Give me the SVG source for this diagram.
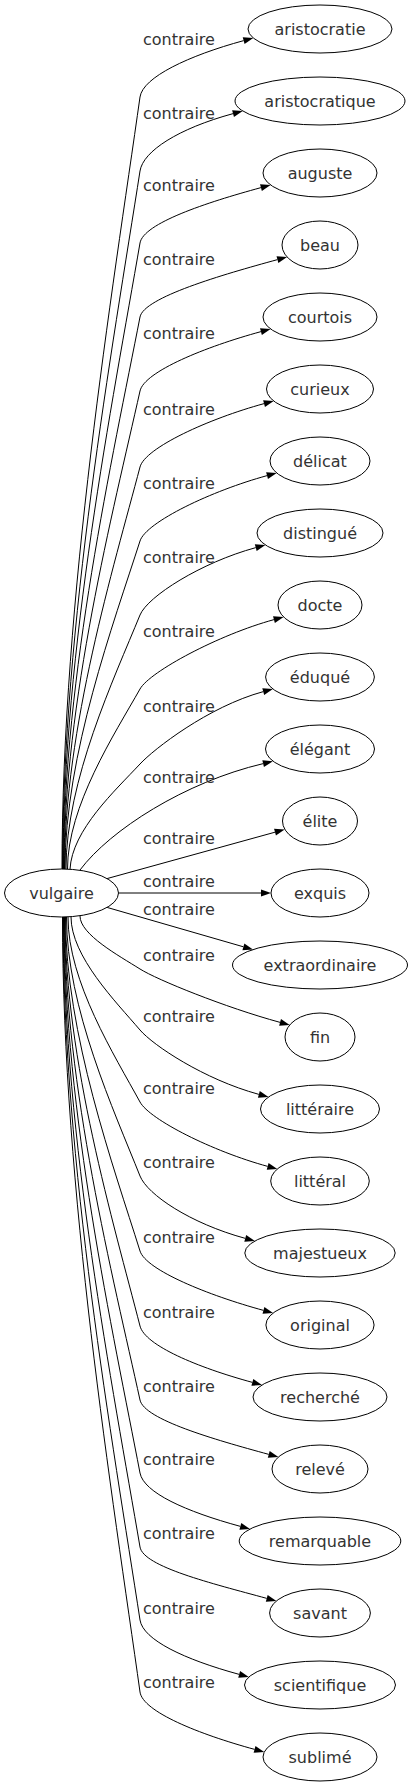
<svg xmlns="http://www.w3.org/2000/svg" width="413" height="1787" viewBox="0 0 413 1787">
<style>
.n ellipse{fill:#fff;stroke:#000;stroke-width:1}
.n text{font-family:"DejaVu Sans",sans-serif;font-size:16px;fill:#333;text-anchor:middle}
.e path{fill:none;stroke:#000;stroke-width:1;marker-end:url(#arr)}
.e text{font-family:"DejaVu Sans",sans-serif;font-size:16px;fill:#333;text-anchor:start}
</style>
<defs>
<marker id="arr" markerUnits="userSpaceOnUse" markerWidth="10" markerHeight="7" refX="0" refY="3.5" orient="auto" viewBox="0 0 10 7" overflow="visible"><path d="M0,0 L10,3.5 L0,7 z" fill="#000"/></marker>
</defs>
<rect width="413" height="1787" fill="#fff"/>
<g id="connectors" class="e">
<path d="M62,869 C62,598.8 112.7,290 140,97 C142.8,77.2 188.65,55.63 243.65,40.63"/><text x="143" y="45">contraire</text>
<path d="M62.5,869 C62.5,624.7 112.9,345.5 140,171 C143.1,151.2 178.05,128.63 233.05,113.63"/><text x="143" y="119">contraire</text>
<path d="M63,869 C63,649.9 113.05,399.5 140,243 C143.4,223.3 205.95,202.63 260.95,187.63"/><text x="143" y="191">contraire</text>
<path d="M63.5,869 C63.5,675.8 113.2,455 140,317 C143.8,297.4 222.45,274.63 277.45,259.63"/><text x="143" y="265">contraire</text>
<path d="M64,869 C64,701.7 113.4,510.5 140,391 C144.3,371.5 205.95,346.63 260.95,331.63"/><text x="143" y="339">contraire</text>
<path d="M64.5,869 C64.5,728.3 113.6,567.5 140,467 C145.1,447.7 209.05,418.63 264.05,403.63"/><text x="143" y="415">contraire</text>
<path d="M65,869 C65,754.2 113.75,623 140,541 C146.1,522 212.05,490.63 267.05,475.63"/><text x="143" y="489">contraire</text>
<path d="M66,869 C66,780.1 114.1,678.5 140,615 C147.6,596.5 200.75,562.63 255.75,547.63"/><text x="143" y="563">contraire</text>
<path d="M67.5,869 C67.5,806 114.6,734 140,689 C149.8,671.6 218.95,634.63 273.95,619.63"/><text x="143" y="637">contraire</text>
<path d="M70,869.3 C72,830 115.5,790.3 140,764 C153.6,749.3 208.25,706.63 263.25,691.63"/><text x="143" y="712">contraire</text>
<path d="M80,870 C110,830 185,782 263.15,763.63"/><text x="143" y="783">contraire</text>
<path d="M107,878.6 L275,832.2"/><text x="143" y="844">contraire</text>
<path d="M118.5,893 L261,893"/><text x="143" y="887">contraire</text>
<path d="M107,907.4 L243.4,946.8"/><text x="143" y="915">contraire</text>
<path d="M80,916 C80,934.55 119,955.75 140,969 C156.9,979.7 225.05,1007.37 280.05,1022.37"/><text x="143" y="961">contraire</text>
<path d="M71,916.7 C71,956.4 115.85,1001.7 140,1030 C153,1045.2 203.85,1079.37 258.85,1094.37"/><text x="143" y="1022">contraire</text>
<path d="M68,917 C68,981.75 114.8,1055.75 140,1102 C149.6,1119.6 212.65,1151.37 267.65,1166.37"/><text x="143" y="1094">contraire</text>
<path d="M66.5,917 C66.5,1007.65 114.3,1111.25 140,1176 C147.4,1194.6 190.25,1223.37 245.25,1238.37"/><text x="143" y="1168">contraire</text>
<path d="M65.5,917 C65.5,1033.9 113.9,1167.5 140,1251 C146,1270.1 208.45,1295.37 263.45,1310.37"/><text x="143" y="1243">contraire</text>
<path d="M65,917 C65,1060.15 113.75,1223.75 140,1326 C145,1345.4 197.35,1367.37 252.35,1382.37"/><text x="143" y="1318">contraire</text>
<path d="M64.5,917 C64.5,1086.05 113.6,1279.25 140,1400 C144.3,1419.5 213.75,1439.37 268.75,1454.37"/><text x="143" y="1392">contraire</text>
<path d="M64,917 C64,1111.6 113.4,1334 140,1473 C143.8,1492.6 185.35,1511.37 240.35,1526.37"/><text x="143" y="1465">contraire</text>
<path d="M63.5,917 C63.5,1137.5 113.2,1389.5 140,1547 C143.4,1566.7 211.75,1583.37 266.75,1598.37"/><text x="143" y="1539">contraire</text>
<path d="M63,917 C63,1163.05 113.05,1444.25 140,1620 C143,1639.8 184.15,1659.37 239.15,1674.37"/><text x="143" y="1614">contraire</text>
<path d="M62.5,917 C62.5,1188.25 112.9,1498.25 140,1692 C142.8,1711.8 199.55,1734.37 254.55,1749.37"/><text x="143" y="1688">contraire</text>
</g>
<g id="vulgaire" class="n"><ellipse cx="61.5" cy="893" rx="57" ry="24"/><text x="61.5" y="899">vulgaire</text></g>
<g id="aristocratie" class="n"><ellipse cx="320" cy="29" rx="72" ry="24"/><text x="320" y="35">aristocratie</text></g>
<g id="aristocratique" class="n"><ellipse cx="320" cy="101" rx="85" ry="24"/><text x="320" y="107">aristocratique</text></g>
<g id="auguste" class="n"><ellipse cx="320" cy="173" rx="57" ry="24"/><text x="320" y="179">auguste</text></g>
<g id="beau" class="n"><ellipse cx="320" cy="245" rx="38" ry="24"/><text x="320" y="251">beau</text></g>
<g id="courtois" class="n"><ellipse cx="320" cy="317" rx="57" ry="24"/><text x="320" y="323">courtois</text></g>
<g id="curieux" class="n"><ellipse cx="320" cy="389" rx="53.5" ry="24"/><text x="320" y="395">curieux</text></g>
<g id="delicat" class="n"><ellipse cx="320" cy="461" rx="50" ry="24"/><text x="320" y="467">délicat</text></g>
<g id="distingue" class="n"><ellipse cx="320" cy="533" rx="63" ry="24"/><text x="320" y="539">distingué</text></g>
<g id="docte" class="n"><ellipse cx="320" cy="605" rx="42" ry="24"/><text x="320" y="611">docte</text></g>
<g id="eduque" class="n"><ellipse cx="320" cy="677" rx="54.4" ry="24"/><text x="320" y="683">éduqué</text></g>
<g id="elegant" class="n"><ellipse cx="320" cy="749" rx="54.5" ry="24"/><text x="320" y="755">élégant</text></g>
<g id="elite" class="n"><ellipse cx="320" cy="821" rx="37.5" ry="24"/><text x="320" y="827">élite</text></g>
<g id="exquis" class="n"><ellipse cx="320" cy="893" rx="49" ry="24"/><text x="320" y="899">exquis</text></g>
<g id="extraordinaire" class="n"><ellipse cx="320" cy="965" rx="87.5" ry="24"/><text x="320" y="971">extraordinaire</text></g>
<g id="fin" class="n"><ellipse cx="320" cy="1037" rx="35" ry="24"/><text x="320" y="1043">fin</text></g>
<g id="litteraire" class="n"><ellipse cx="320" cy="1109" rx="59.5" ry="24"/><text x="320" y="1115">littéraire</text></g>
<g id="litteral" class="n"><ellipse cx="320" cy="1181" rx="49.3" ry="24"/><text x="320" y="1187">littéral</text></g>
<g id="majestueux" class="n"><ellipse cx="320" cy="1253" rx="75.2" ry="24"/><text x="320" y="1259">majestueux</text></g>
<g id="original" class="n"><ellipse cx="320" cy="1325" rx="54.1" ry="24"/><text x="320" y="1331">original</text></g>
<g id="recherche" class="n"><ellipse cx="320" cy="1397" rx="67" ry="24"/><text x="320" y="1403">recherché</text></g>
<g id="releve" class="n"><ellipse cx="320" cy="1469" rx="48" ry="24"/><text x="320" y="1475">relevé</text></g>
<g id="remarquable" class="n"><ellipse cx="320" cy="1541" rx="80.8" ry="24"/><text x="320" y="1547">remarquable</text></g>
<g id="savant" class="n"><ellipse cx="320" cy="1613" rx="50.4" ry="24"/><text x="320" y="1619">savant</text></g>
<g id="scientifique" class="n"><ellipse cx="320" cy="1685" rx="75.5" ry="24"/><text x="320" y="1691">scientifique</text></g>
<g id="sublime" class="n"><ellipse cx="320" cy="1757" rx="57" ry="24"/><text x="320" y="1763">sublimé</text></g>
</svg>
